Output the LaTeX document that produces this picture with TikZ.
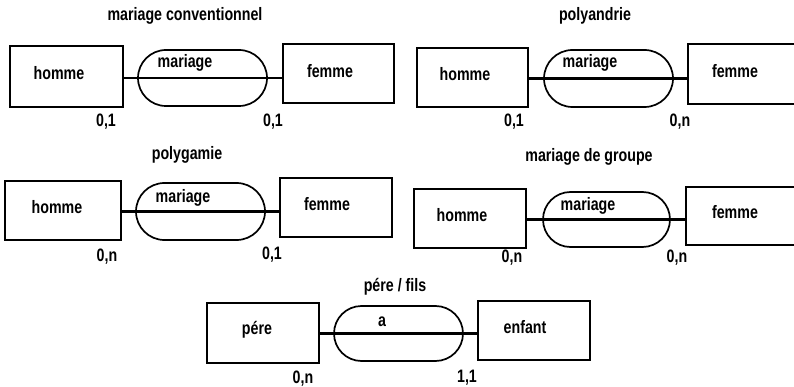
\documentclass[tikz,border=0pt]{standalone}
\usepackage{fontspec}
\setmainfont{Liberation Sans}[FakeStretch=0.79]
\usetikzlibrary{shapes.misc}
\tikzset{
  txt/.style={font=\bfseries\fontsize{18}{21}\selectfont, inner sep=0pt, anchor=center},
  ent/.style={draw, line width=2pt, inner sep=0pt},
  rel/.style={draw, rounded rectangle, line width=1.7pt, inner sep=0pt},
  lnk/.style={line width=2.2pt},
}
\newcommand{\ebox}[5]{% name, x1, x2, y1, y2
  \node[ent, minimum width={(#3-#2)*1pt}, minimum height={(#5-#4)*1pt}] (#1) at ({(#2+#3)/2},{(#4+#5)/2}) {};}
\newcommand{\rbox}[5]{%
  \node[rel, minimum width={(#3-#2)*1pt}, minimum height={(#5-#4)*1pt}] (#1) at ({(#2+#3)/2},{(#4+#5)/2}) {};}
\begin{document}
\begin{tikzpicture}[x=1pt,y=-1pt]
\clip (0,0) rectangle (794,387);
\useasboundingbox (0,0) rectangle (794,387);
% panel 1
\node[txt] (t1) at (185,16) {mariage conventionnel};
\ebox{h1}{10}{123}{46}{107}
\node[txt] (h1t) at (59,73) {homme};
\rbox{r1}{138}{267}{50}{106}
\node[txt] (r1t) at (185,63) {mariage};
\ebox{f1}{283}{394}{44}{103}
\node[txt] (f1t) at (330,71) {femme};
\draw[lnk] (r1.center -| h1.east) -- (r1.center -| f1.west);
\node[txt] (c1a) at (106,122) {0,1};
\node[txt] (c1b) at (273,122) {0,1};
% panel 2
\node[txt] (t2) at (595,16) {polyandrie};
\ebox{h2}{417}{528}{48}{107}
\node[txt] (h2t) at (465,74) {homme};
\rbox{r2}{544}{673}{50}{107}
\node[txt] (r2t) at (590,63) {mariage};
\ebox{f2}{688}{810}{44}{104}
\node[txt] (f2t) at (735,71) {femme};
\draw[lnk] (r2.center -| h2.east) -- (r2.center -| f2.west);
\node[txt] (c2a) at (514,122) {0,1};
\node[txt] (c2b) at (680,122) {0,n};
% panel 3
\node[txt] (t3) at (187,155) {polygamie};
\ebox{h3}{5}{121}{181}{240}
\node[txt] (h3t) at (57,207) {homme};
\rbox{r3}{136}{265}{183}{240}
\node[txt] (r3t) at (183,198) {mariage};
\ebox{f3}{280}{392}{178}{237}
\node[txt] (f3t) at (327,204) {femme};
\draw[lnk] (r3.center -| h3.east) -- (r3.center -| f3.west);
\node[txt] (c3a) at (107,257) {0,n};
\node[txt] (c3b) at (272,255) {0,1};
% panel 4
\node[txt] (t4) at (589,157) {mariage de groupe};
\ebox{h4}{414}{526}{189}{248}
\node[txt] (h4t) at (462,215) {homme};
\rbox{r4}{543}{670}{192}{247}
\node[txt] (r4t) at (588,206) {mariage};
\ebox{f4}{686}{810}{187}{245}
\node[txt] (f4t) at (735,212) {femme};
\draw[lnk] (r4.center -| h4.east) -- (r4.center -| f4.west);
\node[txt] (c4a) at (512,258) {0,n};
\node[txt] (c4b) at (677,258) {0,n};
% panel 5
\node[txt] (t5) at (395,287) {pére / fils};
\ebox{h5}{207}{319}{303}{363}
\node[txt] (h5t) at (257,330) {pére};
\rbox{r5}{334}{463}{306}{361}
\node[txt] (r5t) at (382,322) {a};
\ebox{f5}{478}{590}{301}{360}
\node[txt] (f5t) at (525,327) {enfant};
\draw[lnk] (r5.center -| h5.east) -- (r5.center -| f5.west);
\node[txt] (c5a) at (303,379) {0,n};
\node[txt] (c5b) at (467,378) {1,1};
\end{tikzpicture}
\end{document}
